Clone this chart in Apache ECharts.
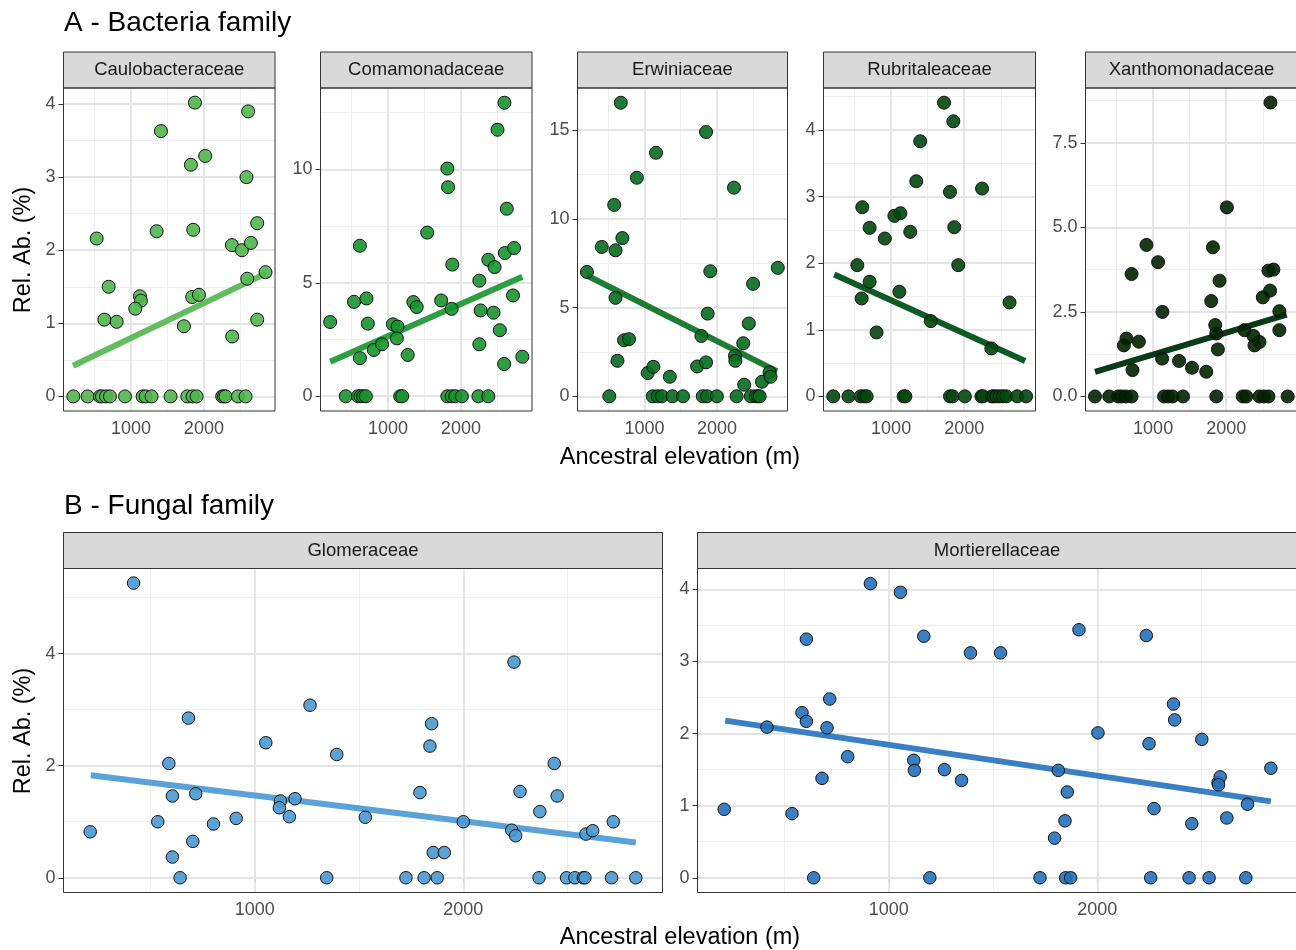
<!DOCTYPE html>
<html><head><meta charset="utf-8">
<script src="https://cdn.jsdelivr.net/npm/echarts@6/dist/echarts.min.js"></script>
<style>html,body{margin:0;padding:0;background:#fff}#c{width:1296px;height:950px}</style>
</head><body><div id="c"></div>
<script>
// ---------------- DATA ----------------
const xMajorTicks = [1000, 2000];
const xMinorTicks = [500, 1500, 2500];

const familyNames = ['Caulobacteraceae','Comamonadaceae','Erwiniaceae','Rubritaleaceae','Xanthomonadaceae','Glomeraceae','Mortierellaceae'];

const cauloPoints = [[530,2.16],[1411,3.63],[1877,4.02],[1822,3.17],[2018,3.29],[2607,3.90],[2584,3.00],[1352,2.26],[1854,2.28],[2731,2.37],[2384,2.07],[2521,2.00],[2644,2.10],[2845,1.70],[2594,1.61],[694,1.50],[1123,1.37],[1137,1.31],[1059,1.20],[1840,1.36],[1932,1.39],[635,1.05],[804,1.02],[1726,0.96],[2731,1.05],[2388,0.82]];
const cauloZeros = [210,406,575,603,658,712,918,1160,1201,1283,1543,1772,1845,1900,2251,2274,2297,2466,2571];
const cauloTrend = [[205,0.42],[2845,1.68]];
const cauloYTicks = [0,1,2,3,4];
const cauloYMinor = [0.5,1.5,2.5,3.5];

const comaPoints = [[208,3.27],[534,4.16],[615,6.63],[615,1.68],[706,4.31],[724,3.20],[805,2.04],[919,2.29],[1068,3.17],[1131,3.07],[1122,2.55],[1271,1.82],[1348,4.15],[1394,3.93],[1538,7.21],[1729,4.22],[1814,10.03],[1824,9.21],[1882,5.80],[1873,3.85],[2253,5.09],[2271,3.78],[2253,2.29],[2376,6.01],[2462,5.69],[2448,3.68],[2502,11.74],[2597,12.93],[2629,8.26],[2602,6.31],[2729,6.53],[2534,2.91],[2593,1.42],[2715,4.44],[2842,1.74]];
const comaZeros = [421,588,624,661,697,1167,1195,1814,1873,1923,2014,2240,2376];
const comaTrend = [[208,1.52],[2842,5.26]];
const comaYTicks = [0,5,10];
const comaYMinor = [2.5,7.5,12.5];

const erwiPoints = [[205,7.01],[673,16.55],[409,8.42],[582,10.79],[600,8.23],[695,8.92],[895,12.32],[1159,13.73],[600,5.55],[718,3.16],[786,3.22],[627,2.00],[1045,1.31],[1123,1.66],[1350,1.10],[1727,1.68],[1786,3.40],[1850,1.91],[1850,14.90],[1909,7.05],[1873,4.66],[2236,11.76],[2250,2.28],[2255,2.00],[2364,2.99],[2377,0.65],[2441,4.10],[2500,6.34],[2623,0.82],[2727,1.35],[2741,1.10],[2841,7.24]];
const erwiZeros = [514,1114,1182,1241,1386,1532,1805,1864,2000,2273,2468,2536,2568,2591];
const erwiTrend = [[205,6.81],[2832,1.40]];
const erwiYTicks = [0,5,10,15];
const erwiYMinor = [2.5,7.5,12.5];

const rubrPoints = [[538,1.97],[606,2.84],[597,1.47],[706,2.53],[706,1.72],[801,0.96],[914,2.37],[1045,2.71],[1127,2.75],[1113,1.57],[1262,2.47],[1344,3.23],[1398,3.83],[1543,1.13],[1724,4.41],[1851,4.13],[1805,3.07],[1864,2.54],[1919,1.97],[2244,3.12],[2371,0.72],[2620,1.41]];
const rubrZeros = [208,416,584,629,665,1172,1195,1805,1842,2009,2235,2258,2380,2403,2439,2484,2529,2575,2724,2846];
const rubrTrend = [[222,1.83],[2833,0.53]];
const rubrYTicks = [0,1,2,3,4];
const rubrYMinor = [0.5,1.5,2.5,3.5,4.5];

const xanthPoints = [[2605,8.69],[2009,5.59],[909,4.48],[1068,3.97],[705,3.62],[1818,4.41],[1909,3.42],[1795,2.82],[1127,2.50],[1850,2.11],[1864,1.86],[1886,1.39],[636,1.71],[600,1.51],[805,1.62],[718,0.78],[1123,1.12],[1355,1.05],[1532,0.85],[1727,0.73],[2250,1.96],[2373,1.79],[2386,1.51],[2455,1.61],[2500,2.93],[2600,3.13],[2577,3.72],[2645,3.75],[2727,2.52],[2727,1.96]];
const xanthZeros = [205,400,523,568,627,705,1150,1205,1264,1409,1864,2227,2273,2455,2514,2577,2841];
const xanthTrend = [[205,0.73],[2827,2.42]];
const xanthYTicks = [0,2.5,5,7.5];
const xanthYMinor = [1.25,3.75,6.25,8.75];

const glomPoints = [[211,0.82],[419,5.26],[535,1.00],[588,2.04],[605,1.46],[605,0.37],[642,0],[682,2.85],[703,0.65],[717,1.50],[802,0.96],[911,1.06],[1053,2.41],[1123,1.37],[1118,1.25],[1166,1.09],[1193,1.41],[1265,3.08],[1345,0],[1393,2.20],[1530,1.08],[1725,0],[1792,1.52],[1812,0],[1848,2.75],[1840,2.35],[1875,0],[1856,0.45],[1909,0.45],[2000,1.00],[2232,0.85],[2251,0.75],[2243,3.85],[2272,1.54],[2363,0],[2367,1.18],[2436,2.04],[2450,1.46],[2495,0],[2535,0],[2575,0],[2583,0],[2588,0.78],[2620,0.84],[2711,0],[2719,1.00],[2827,0]];
const glomZeros = [];
const glomTrend = [[214,1.83],[2827,0.63]];
const glomYTicks = [0,2,4];
const glomYMinor = [1,3,5];

const mortPoints = [[211,0.95],[416,2.09],[536,0.89],[605,3.31],[584,2.29],[605,2.17],[640,0],[680,1.38],[704,2.08],[717,2.48],[803,1.68],[912,4.08],[1056,3.96],[1120,1.63],[1123,1.49],[1168,3.35],[1197,0],[1267,1.50],[1349,1.35],[1392,3.12],[1536,3.12],[1725,0],[1795,0.55],[1813,1.49],[1845,0.79],[1856,1.19],[1848,0],[1872,0],[1912,3.44],[2003,2.01],[2235,3.36],[2248,1.86],[2256,0],[2272,0.96],[2365,2.41],[2371,2.19],[2440,0],[2453,0.75],[2501,1.92],[2536,0],[2579,1.32],[2589,1.40],[2581,1.29],[2621,0.83],[2712,0],[2720,1.02],[2832,1.52]];
const mortZeros = [];
const mortTrend = [[216,2.18],[2832,1.06]];
const mortYTicks = [0,1,2,3,4];
const mortYMinor = [0.5,1.5,2.5,3.5];

// axis ranges
const topXRange = [75, 2975];
const botXRange = [83, 2955];
const yRanges = [[-0.2,4.22],[-0.65,13.58],[-0.83,17.38],[-0.22,4.63],[-0.43,9.12],[-0.263,5.52],[-0.204,4.29]];

// ---------------- LAYOUT / STYLE ----------------
const FONT = '"Liberation Sans", Arial, Helvetica, sans-serif';
const panels = [
  {pts:cauloPoints, zeros:cauloZeros, trend:cauloTrend, yt:cauloYTicks, ym:cauloYMinor, left:63.5, top:88, w:211.5, h:323, xr:topXRange, fill:'rgba(80,182,76,0.9)', line:'#62BD5E', size:13},
  {pts:comaPoints, zeros:comaZeros, trend:comaTrend, yt:comaYTicks, ym:comaYMinor, left:320.5, top:88, w:211.5, h:323, xr:topXRange, fill:'rgba(23,147,47,0.9)', line:'#2E9E44', size:13},
  {pts:erwiPoints, zeros:erwiZeros, trend:erwiTrend, yt:erwiYTicks, ym:erwiYMinor, left:577.5, top:88, w:210, h:323, xr:topXRange, fill:'rgba(5,109,31,0.9)', line:'#1E7C35', size:13},
  {pts:rubrPoints, zeros:rubrZeros, trend:rubrTrend, yt:rubrYTicks, ym:rubrYMinor, left:823.5, top:88, w:212, h:323, xr:topXRange, fill:'rgba(0,72,12,0.9)', line:'#0D5A24', size:13},
  {pts:xanthPoints, zeros:xanthZeros, trend:xanthTrend, yt:xanthYTicks, ym:xanthYMinor, left:1085.5, top:88, w:212, h:323, xr:topXRange, fill:'rgba(0,36,0,0.9)', line:'#0A3A17', size:13, fmt:v=>v.toFixed(1)},
  {pts:glomPoints, zeros:glomZeros, trend:glomTrend, yt:glomYTicks, ym:glomYMinor, left:63.5, top:568.5, w:599, h:324, xr:botXRange, fill:'rgba(73,153,209,0.9)', line:'#5BA3D6', size:12.5},
  {pts:mortPoints, zeros:mortZeros, trend:mortTrend, yt:mortYTicks, ym:mortYMinor, left:697.5, top:568.5, w:599, h:324, xr:botXRange, fill:'rgba(36,113,186,0.9)', line:'#3A7FC1', size:12.5}
];
const STRIP_H = 36;

const majorStyle = {color:'#E4E4E4', width:1.8, type:'solid'};
const minorStyle = {color:'#EEEEEE', width:1.1, type:'solid'};

const grids=[], xAxes=[], yAxes=[], series=[], elements=[];
panels.forEach((p,i)=>{
  grids.push({left:p.left, top:p.top, width:p.w, height:p.h, show:false, containLabel:false, outerBoundsMode:'none'});
  xAxes.push({gridIndex:i, type:'value', min:p.xr[0], max:p.xr[1],
    splitLine:{show:false}, axisLine:{show:false},
    axisTick:{show:true, length:5, lineStyle:{color:'#333', width:1}, customValues:xMajorTicks},
    axisLabel:{show:true, customValues:xMajorTicks, color:'#4D4D4D', fontSize:18, fontFamily:FONT, margin:9,
      formatter:v=>String(v)}});
  yAxes.push({gridIndex:i, type:'value', min:yRanges[i][0], max:yRanges[i][1],
    splitLine:{show:false}, axisLine:{show:false},
    axisTick:{show:true, length:5, lineStyle:{color:'#333', width:1}, customValues:p.yt},
    axisLabel:{show:true, customValues:p.yt, color:'#4D4D4D', fontSize:18, fontFamily:FONT, margin:8,
      formatter: p.fmt ? p.fmt : (v=>String(v))}});
  const gl=[];
  xMinorTicks.forEach(v=>gl.push({xAxis:v, lineStyle:minorStyle}));
  p.ym.forEach(v=>gl.push({yAxis:v, lineStyle:minorStyle}));
  xMajorTicks.forEach(v=>gl.push({xAxis:v, lineStyle:majorStyle}));
  p.yt.forEach(v=>gl.push({yAxis:v, lineStyle:majorStyle}));
  series.push({type:'line', xAxisIndex:i, yAxisIndex:i, data:p.trend, symbol:'none', showSymbol:false, z:2, silent:true,
    lineStyle:{color:p.line, width:6, cap:'butt'},
    markLine:{silent:true, symbol:['none','none'], label:{show:false}, z:1, animation:false, emphasis:{disabled:true}, data:gl}});
  const data = p.pts.concat(p.zeros.map(x=>[x,0]));
  series.push({type:'scatter', xAxisIndex:i, yAxisIndex:i, data:data, symbol:'circle', symbolSize:p.size, z:3, silent:true,
    itemStyle:{color:p.fill, borderColor:'#111', borderWidth:1, opacity:1}});
  // strip
  elements.push({type:'rect', z:100, shape:{x:p.left, y:p.top-STRIP_H, width:p.w, height:STRIP_H},
    style:{fill:'#D9D9D9', stroke:'#333', lineWidth:1}});
  elements.push({type:'text', z:101, x:p.left+p.w/2, y:p.top-STRIP_H/2,
    style:{text:familyNames[i], fontSize:18.5, fontFamily:FONT, fill:'#1A1A1A', align:'center', verticalAlign:'middle', textAlign:'center', textVerticalAlign:'middle'}});
  // panel border
  elements.push({type:'rect', z:100, shape:{x:p.left, y:p.top, width:p.w, height:p.h},
    style:{fill:null, stroke:'#333', lineWidth:1}});
});

function txt(t, x, y, size, opts){
  return Object.assign({type:'text', z:101, x:x, y:y,
    style:{text:t, fontSize:size, fontFamily:FONT, fill:'#000', align:'center', verticalAlign:'middle', textAlign:'center', textVerticalAlign:'middle'}}, opts||{});
}
elements.push(txt('A - Bacteria family', 64, 23, 28, {style:{text:'A - Bacteria family', fontSize:28, fontFamily:FONT, fill:'#000', align:'left', verticalAlign:'middle', textAlign:'left', textVerticalAlign:'middle'}}));
elements.push(txt('B - Fungal family', 64, 506, 28, {style:{text:'B - Fungal family', fontSize:28, fontFamily:FONT, fill:'#000', align:'left', verticalAlign:'middle', textAlign:'left', textVerticalAlign:'middle'}}));
elements.push(txt('Ancestral elevation (m)', 680, 458, 23.5));
elements.push(txt('Ancestral elevation (m)', 680, 938, 23.5));
elements.push(txt('Rel. Ab. (%)', 24, 250, 23.5, {rotation:Math.PI/2}));
elements.push(txt('Rel. Ab. (%)', 24, 731, 23.5, {rotation:Math.PI/2}));

const chart = echarts.init(document.getElementById('c'), null, {renderer:'canvas'});
chart.setOption({
  animation:false,
  backgroundColor:'#fff',
  textStyle:{fontFamily:FONT},
  grid:grids, xAxis:xAxes, yAxis:yAxes, series:series,
  graphic:{elements:elements}
});
</script></body></html>
